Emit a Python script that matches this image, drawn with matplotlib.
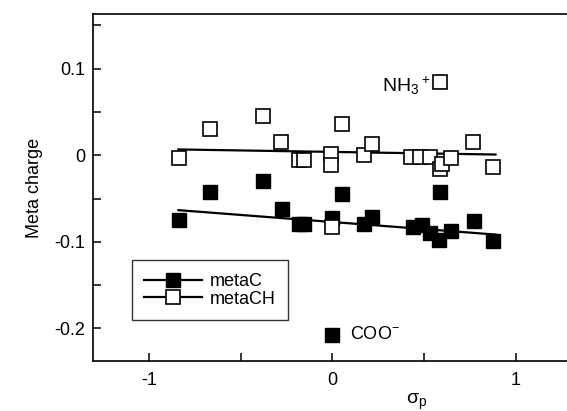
import matplotlib
matplotlib.use("Agg")
import matplotlib.pyplot as plt
from matplotlib.lines import Line2D
from matplotlib.ticker import FixedLocator
import numpy as np

plt.rcParams['font.family'] = ['Liberation Sans', 'DejaVu Sans']
plt.rcParams['mathtext.default'] = 'regular'

# metaCH (open squares)
sigma_CH = [-0.837, -0.666, -0.379, -0.278, -0.180, -0.155, -0.009, -0.009, 0.052,
            0.171, 0.218, 0.431, 0.476, 0.531, 0.585, 0.600, 0.649, 0.767, 0.876, 0.0]
charge_CH = [-0.003, 0.030, 0.045, 0.015, -0.006, -0.006, 0.001, -0.011, 0.036,
             0.000, 0.013, -0.002, -0.002, -0.002, -0.016, -0.010, -0.003, 0.015, -0.014, -0.083]
# metaC (filled squares)
sigma_C = [-0.837, -0.666, -0.379, -0.275, -0.180, -0.155, 0.0, 0.052, 0.171, 0.216,
           0.440, 0.490, 0.531, 0.580, 0.585, 0.649, 0.771, 0.876]
charge_C = [-0.075, -0.043, -0.030, -0.062, -0.079, -0.079, -0.073, -0.045, -0.079, -0.071,
            -0.083, -0.081, -0.090, -0.098, -0.043, -0.087, -0.076, -0.099]

# outliers
nh3_sigma, nh3_charge = 0.589, 0.085
coo_sigma, coo_charge = 0.0, -0.208

# regression lines (slope, intercept) and x-range
fit_C = (-0.0163, -0.0771)
fit_CH = (-0.0034, 0.0038)
fit_range = [-0.84, 0.89]

fig = plt.figure(figsize=(5.67, 4.11), dpi=100)
ax = fig.add_axes([0.1646, 0.1217, 0.8354, 0.8443])

ms = 10
ax.plot(sigma_C, charge_C, 's', color='black', ms=ms, mec='black', mew=1.0, zorder=3)
ax.plot([coo_sigma], [coo_charge], 's', color='black', ms=ms, mec='black', mew=1.0, zorder=3)
ax.plot(sigma_CH, charge_CH, 's', mfc='white', mec='black', ms=ms, mew=1.2, zorder=4)
ax.plot([nh3_sigma], [nh3_charge], 's', mfc='white', mec='black', ms=ms, mew=1.2, zorder=4)

xr = np.array(fit_range)
ax.plot(xr, fit_C[0] * xr + fit_C[1], color='black', lw=1.6, zorder=2)
ax.plot(xr, fit_CH[0] * xr + fit_CH[1], color='black', lw=1.6, zorder=2)

ax.text(0.273, 0.073, 'NH$_3$$^+$', fontsize=14, ha='left', va='baseline')
ax.text(0.094, -0.212, 'COO$^{-}$', fontsize=13, ha='left', va='baseline')

ax.set_xlim(-1.304, 1.28)
ax.set_ylim(-0.2375, 0.163)

ax.xaxis.set_major_locator(FixedLocator([-1, 0, 1]))
ax.xaxis.set_minor_locator(FixedLocator([-0.5, 0.5]))
ax.set_xticklabels(['-1', '0', '1'])
ax.yaxis.set_major_locator(FixedLocator([-0.2, -0.1, 0, 0.1]))
ax.yaxis.set_minor_locator(FixedLocator([-0.15, -0.05, 0.05, 0.15]))
ax.set_yticklabels(['-0.2', '-0.1', '0', '0.1'])

ax.tick_params(which='both', direction='in', top=False, right=False, width=1.1,
               labelsize=13, length=6)
ax.tick_params(axis='x', pad=8)
ax.tick_params(axis='y', pad=6)
ax.spines['right'].set_visible(False)
for s in ['left', 'bottom', 'top']:
    ax.spines[s].set_linewidth(1.2)

ax.set_ylabel('Meta charge', fontsize=13)
ax.yaxis.set_label_coords(-0.106, 0.5)
ax.set_xlabel('σ$_p$', fontsize=14)
ax.xaxis.set_label_coords(0.683, -0.088)

handles = [
    Line2D([], [], color='black', lw=1.6, marker='s', ms=ms, mfc='black', mec='black'),
    Line2D([], [], color='black', lw=1.6, marker='s', ms=ms, mfc='white', mec='black', mew=1.2),
]
leg = ax.legend(handles, ['metaC', 'metaCH'], loc='lower left',
                bbox_to_anchor=(0.081, 0.117), borderaxespad=0, fontsize=13,
                frameon=True, fancybox=False, edgecolor='black', handlelength=3.2,
                handletextpad=0.4, labelspacing=0.05, borderpad=0.7)
leg.get_frame().set_linewidth(1.0)

fig.savefig('out.png', dpi=100)
